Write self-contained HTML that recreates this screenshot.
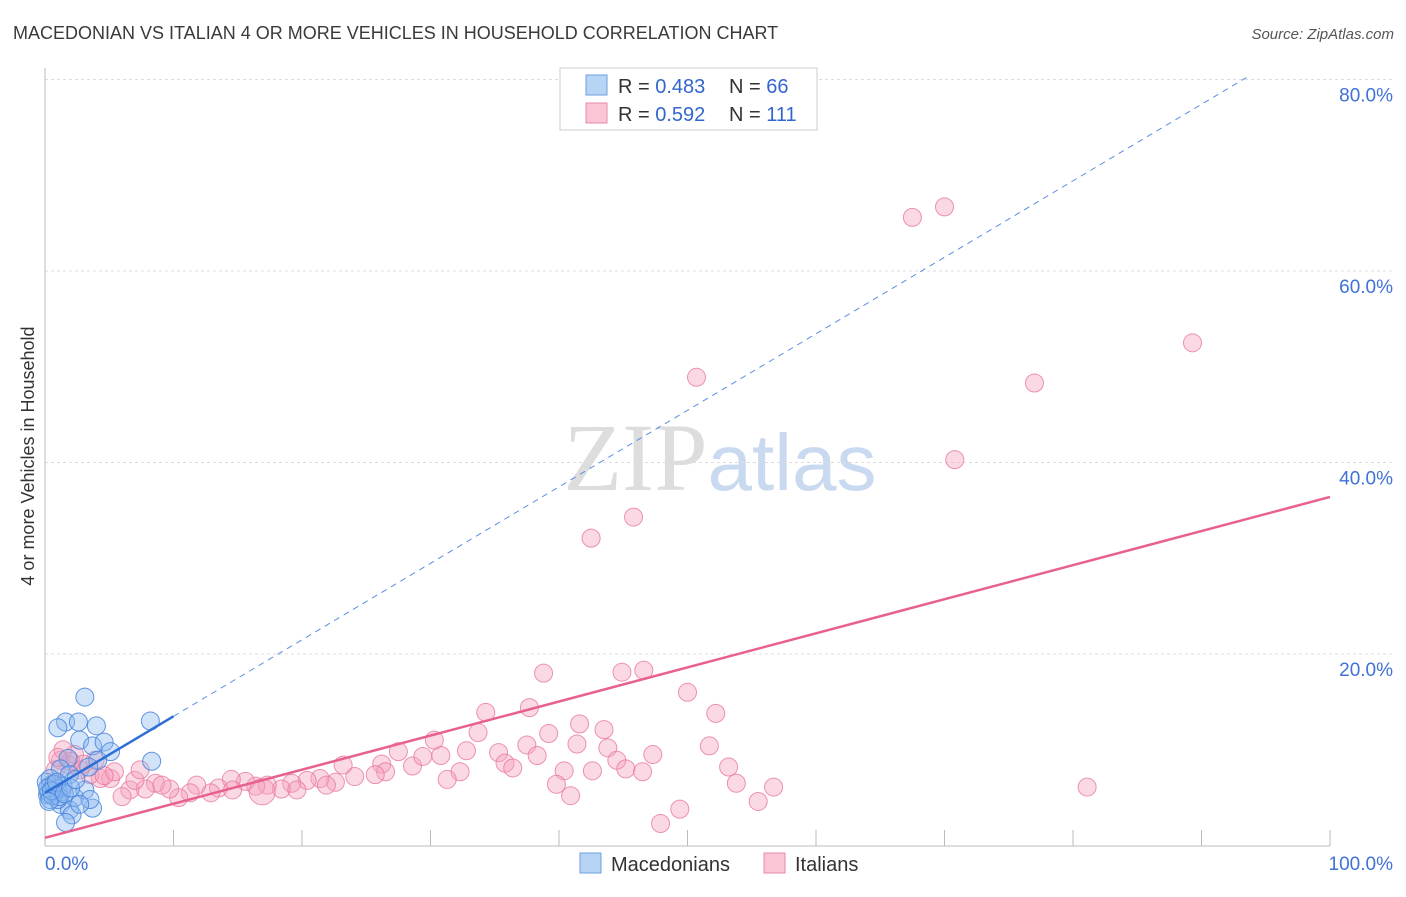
<!DOCTYPE html>
<html><head><meta charset="utf-8"><style>
body{margin:0;background:#fff;font-family:"Liberation Sans",sans-serif;}
svg text{font-family:"Liberation Sans",sans-serif;}
</style></head><body>
<svg id="chart" width="1406" height="892" viewBox="0 0 1406 892" xmlns="http://www.w3.org/2000/svg">
<text x="13" y="39" font-size="18" fill="#3a3a3a">MACEDONIAN VS ITALIAN 4 OR MORE VEHICLES IN HOUSEHOLD CORRELATION CHART</text>
<text x="1394" y="39" font-size="15" fill="#555" text-anchor="end" font-style="italic">Source: ZipAtlas.com</text>
<text transform="translate(34,456) rotate(-90)" font-size="18" fill="#333" text-anchor="middle">4 or more Vehicles in Household</text>
<text x="720" y="490" font-size="96" text-anchor="middle"><tspan fill="#ddd" font-family="Liberation Serif">ZIP</tspan><tspan fill="#c9daf0" font-size="80">atlas</tspan></text>
<g id="grid"></g><g id="axes"></g><g id="pts"></g><g id="lines"></g>
<g>
<rect x="560" y="68" width="257" height="62" fill="#fff" stroke="#ccc"/>
<rect x="586" y="75" width="21" height="20" fill="#b8d4f5" stroke="#6a9fe0"/>
<text x="618" y="93" font-size="20" fill="#333">R = <tspan fill="#3366cc">0.483</tspan></text>
<text x="729" y="93" font-size="20" fill="#333">N = <tspan fill="#3366cc">66</tspan></text>
<rect x="586" y="103" width="21" height="20" fill="#fac5d5" stroke="#e88aa8"/>
<text x="618" y="121" font-size="20" fill="#333">R = <tspan fill="#3366cc">0.592</tspan></text>
<text x="729" y="121" font-size="20" fill="#333">N = <tspan fill="#3366cc">111</tspan></text>
</g>
<g>
<rect x="580" y="853" width="21" height="20" fill="#b8d4f5" stroke="#6a9fe0"/>
<text x="611" y="871" font-size="20" fill="#333">Macedonians</text>
<rect x="764" y="853" width="21" height="20" fill="#fac5d5" stroke="#e88aa8"/>
<text x="795" y="871" font-size="20" fill="#333">Italians</text>
</g>
</svg>
<script>
const yTicks=[20,40,60,80];
const yTickLabels=["20.0%","40.0%","60.0%","80.0%"];
const xTicks=[0,10,20,30,40,50,60,70,80,90,100];
const blueX=[3.1,1.6,1.0,2.6,4.0,8.2,2.7,3.7,4.6,5.1,8.3,4.1,3.4,1.8,1.2,1.9,0.4,0.8,0.4,1.2,2.3,3.1,3.7,1.9,2.1,1.6,1.0,0.2,0.5,0.9,1.3,0.1,0.4,3.5,2.7,0.3,0.6,1.0,1.4,0.2,0.7,1.1,0.5,0.9,1.5,2.0,0.3,2.4];
const blueY=[15.5,12.9,12.3,12.9,12.5,13.0,11.0,10.4,10.8,9.8,8.8,8.9,8.2,9.1,8.0,7.4,6.3,5.6,4.8,4.3,5.0,5.8,3.9,3.7,3.2,2.4,4.8,5.3,5.8,6.0,5.6,6.6,7.0,4.8,4.3,5.5,5.2,5.9,6.2,6.0,6.4,5.1,5.7,6.6,5.4,6.0,4.6,6.9];
const pinkX=[67.5,70.0,89.3,77.0,50.7,70.8,45.8,42.5,38.8,44.9,46.6,50.0,52.2,34.3,37.7,41.6,43.5,51.7,47.3,43.8,41.4,39.2,37.5,33.7,32.8,30.8,30.3,27.5,28.6,29.4,35.3,35.8,36.4,38.3,44.5,45.2,46.5,40.4,42.6,39.8,40.9,47.9,49.4,53.2,53.8,55.5,56.7,81.1,32.3,31.3,26.2,26.5,25.7,24.1,23.2,22.6,21.4,21.9,20.4,19.2,18.4,17.3,16.4,15.6,14.5,13.5,12.9,11.8,11.3,10.4,9.7,8.6,7.8,6.6,6.0,5.1,4.3,3.5,2.7,1.9,1.2,0.8,2.3,3.9,5.4,7.0,9.1,7.4,14.6,16.9,19.6,1.4,2.0,1.0,3.0,4.6];
const pinkY=[65.6,66.7,52.5,48.3,48.9,40.3,34.3,32.1,18.0,18.1,18.3,16.0,13.8,13.9,14.4,12.7,12.1,10.4,9.5,10.2,10.6,11.7,10.5,11.8,9.9,9.4,11.0,9.8,8.3,9.3,9.7,8.6,8.1,9.4,8.9,8.0,7.7,7.8,7.8,6.4,5.2,2.3,3.8,8.2,6.5,4.6,6.1,6.1,7.7,6.9,8.5,7.7,7.4,7.2,8.4,6.6,7.0,6.3,6.8,6.5,5.9,6.3,6.2,6.7,6.9,6.0,5.5,6.3,5.5,5.0,5.9,6.5,5.9,5.8,5.1,7.0,7.0,7.4,7.9,8.4,8.9,7.9,9.5,8.9,7.7,6.8,6.3,7.9,5.8,5.6,5.8,10.0,8.8,9.2,8.5,7.3];
const blueLine=[5.5,85.4];
const pinkLine=[0.8,36.4];
const X=v=>45+v*12.85, Y=v=>845.5-v*9.575;
const NS="http://www.w3.org/2000/svg";
function mk(t,a,p){const e=document.createElementNS(NS,t);for(const k in a)e.setAttribute(k,a[k]);p.appendChild(e);return e;}
const grid=document.getElementById('grid'),axes=document.getElementById('axes'),pts=document.getElementById('pts'),lines=document.getElementById('lines');
yTicks.forEach((t,i)=>{
 const g=mk('line',{x1:45,x2:1394,y1:Y(t),y2:Y(t),stroke:'#ddd','stroke-dasharray':'3,3'},grid);
 
 
 const tx=mk('text',{x:1393,y:Y(t)+22,'font-size':19,fill:'#3f72d4','text-anchor':'end'},axes);
 tx.textContent=yTickLabels[i];
 
 
});
const ax=mk('line',{x1:45,x2:45,y1:68,y2:846,stroke:'#bbb'},axes);


const bx=mk('line',{x1:45,x2:1330,y1:846,y2:846,stroke:'#bbb'},axes);


xTicks.forEach(t=>{const l=mk('line',{x1:X(t),x2:X(t),y1:830,y2:846,stroke:'#bbb'},axes);
 
 });
[["0.0%",45,'start'],["100.0%",1393,'end']].forEach(a=>{const t=mk('text',{x:a[1],y:870,'font-size':19,fill:'#3f72d4','text-anchor':a[2]},axes);t.textContent=a[0];
 
 });
pinkX.forEach((v,i)=>{const c=mk('circle',{cx:X(v),cy:Y(pinkY[i]),r:i==89?13:9,fill:'rgba(246,160,188,0.4)',stroke:'rgba(232,120,160,0.8)','stroke-width':1},pts);
 
 });
blueX.forEach((v,i)=>{const c=mk('circle',{cx:X(v),cy:Y(blueY[i]),r:9,fill:'rgba(140,185,240,0.4)',stroke:'rgba(70,130,220,0.85)','stroke-width':1},pts);
 
 });
const bf=v=>blueLine[0]+(blueLine[1]-blueLine[0])*v/100;
const d=mk('line',{x1:X(10),y1:Y(bf(10)),x2:X(93.5),y2:Y(bf(93.5)),stroke:'#5a8ee0','stroke-width':1,'stroke-dasharray':'6,5'},lines);


const s=mk('line',{x1:X(0),y1:Y(bf(0)),x2:X(10),y2:Y(bf(10)),stroke:'#2d6fd6','stroke-width':2.5},lines);


const p=mk('line',{x1:X(0),y1:Y(pinkLine[0]),x2:X(100),y2:Y(pinkLine[1]),stroke:'#e8608e','stroke-width':2.5},lines);


</script>
</body></html>
